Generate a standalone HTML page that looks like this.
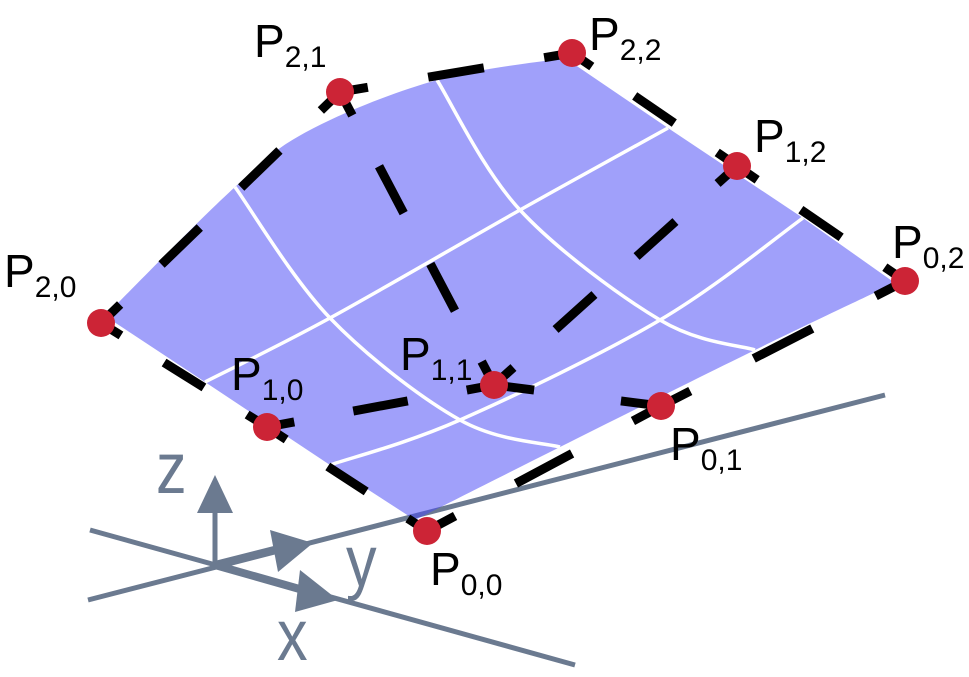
<!DOCTYPE html>
<html><head><meta charset="utf-8"><style>
html,body{margin:0;padding:0;background:#fff;}
svg{display:block;}
text{font-family:"Liberation Sans",sans-serif;}
</style></head><body>
<svg id="s" width="969" height="677" viewBox="0 0 969 677" xmlns="http://www.w3.org/2000/svg">
<g stroke="#6b7a90" stroke-width="5" fill="none">
<line x1="90" y1="530" x2="575" y2="665"/>
<line x1="88" y1="600" x2="885" y2="395"/>
<line x1="215" y1="565" x2="215" y2="505"/>
<line x1="215" y1="565" x2="290" y2="546" stroke-width="8"/>
<line x1="215" y1="565" x2="310" y2="592" stroke-width="8"/>
</g>
<g fill="#6b7a90">
<polygon points="215,475 197,513 233,513"/>
<polygon points="313,543 270,530 278,572"/>
<polygon points="338,600 300,570 295,612"/>
<text x="156" y="493" font-size="72" transform="translate(156 493) scale(0.85 1) translate(-156 -493)">z</text>
<text x="346" y="586" font-size="72" transform="translate(346 586) scale(0.85 1) translate(-346 -586)">y</text>
<text x="277" y="660" font-size="72" transform="translate(277 660) scale(0.85 1) translate(-277 -660)">x</text>
</g>
<g id="surf"></g>
<g id="net" stroke="#000" stroke-width="9" fill="none"></g>
<g fill="#cc2436">
<circle cx="101" cy="323" r="14"/><circle cx="340" cy="92" r="14"/><circle cx="572" cy="53" r="14"/>
<circle cx="267" cy="427" r="14"/><circle cx="494" cy="385" r="14"/><circle cx="737" cy="166" r="14"/>
<circle cx="427" cy="531" r="14"/><circle cx="661" cy="406" r="14"/><circle cx="905" cy="281" r="14"/>
</g>
<g fill="#000" font-size="46">
<text x="4" y="287">P<tspan font-size="30" dy="10">2,0</tspan></text>
<text x="254" y="57">P<tspan font-size="30" dy="10">2,1</tspan></text>
<text x="589" y="50">P<tspan font-size="30" dy="10">2,2</tspan></text>
<text x="754" y="152">P<tspan font-size="30" dy="10">1,2</tspan></text>
<text x="892" y="258">P<tspan font-size="30" dy="10">0,2</tspan></text>
<text x="231" y="390">P<tspan font-size="30" dy="10">1,0</tspan></text>
<text x="400" y="370">P<tspan font-size="30" dy="10">1,1</tspan></text>
<text x="670" y="460">P<tspan font-size="30" dy="10">0,1</tspan></text>
<text x="430" y="585">P<tspan font-size="30" dy="10">0,0</tspan></text>
</g>
</svg>
<script>
(function(){
var P=[[[427,531],[661,406],[905,281]],[[267,427],[494,385],[737,166]],[[101,323],[340,92],[572,53]]];
var ns="http://www.w3.org/2000/svg",g=document.getElementById('surf');
function cr(pts){
 var d='';
 for(var i=0;i<pts.length-1;i++){
  var p0=pts[Math.max(0,i-1)],p1=pts[i],p2=pts[i+1],p3=pts[Math.min(pts.length-1,i+2)];
  var c1=[p1[0]+(p2[0]-p0[0])/6,p1[1]+(p2[1]-p0[1])/6],c2=[p2[0]-(p3[0]-p1[0])/6,p2[1]-(p3[1]-p1[1])/6];
  d+=' C'+c1.join(',')+' '+c2.join(',')+' '+p2.join(',');
 }
 return d;
}
var topE=[[105,316],[235,187],[310,130],[437,80],[565,58]];
var botE=[[895,283],[755,350],[560,447],[415,520]];
var d='M105,316'+cr(topE)+' L668,128 L803,218 L895,283'+cr(botE)+' L330,465 L205,382 Z';
var poly=document.createElementNS(ns,'path');
poly.setAttribute('d',d);poly.setAttribute('fill','#4848f5');poly.setAttribute('fill-opacity','0.52');g.appendChild(poly);
[[[235,187],[330,318],[460,420],[560,447]],
 [[437,80],[520,210],[660,320],[755,350]],
 [[205,382],[330,318],[520,210],[668,128]],
 [[330,465],[460,420],[660,320],[803,218]]].forEach(function(L){
 var pl=document.createElementNS(ns,'path');
 pl.setAttribute('d','M'+L[0].join(',')+cr(L));
 pl.setAttribute('fill','none');pl.setAttribute('stroke','#fff');pl.setAttribute('stroke-width','3.5');g.appendChild(pl);
});
var net=document.getElementById('net');
function seg(p,q){var L=Math.hypot(q[0]-p[0],q[1]-p[1]);var n=Math.max(1,Math.round(L/115));var per=L/n,dd=per*0.48;
 var ln=document.createElementNS(ns,'line');ln.setAttribute('x1',p[0]);ln.setAttribute('y1',p[1]);ln.setAttribute('x2',q[0]);ln.setAttribute('y2',q[1]);
 ln.setAttribute('stroke-dasharray',dd.toFixed(2)+' '+(per-dd).toFixed(2));ln.setAttribute('stroke-dashoffset',(dd/2).toFixed(2));net.appendChild(ln);}
for(var i=0;i<3;i++){seg(P[i][0],P[i][1]);seg(P[i][1],P[i][2]);seg(P[0][i],P[1][i]);seg(P[1][i],P[2][i]);}
})();
</script>
</body></html>
